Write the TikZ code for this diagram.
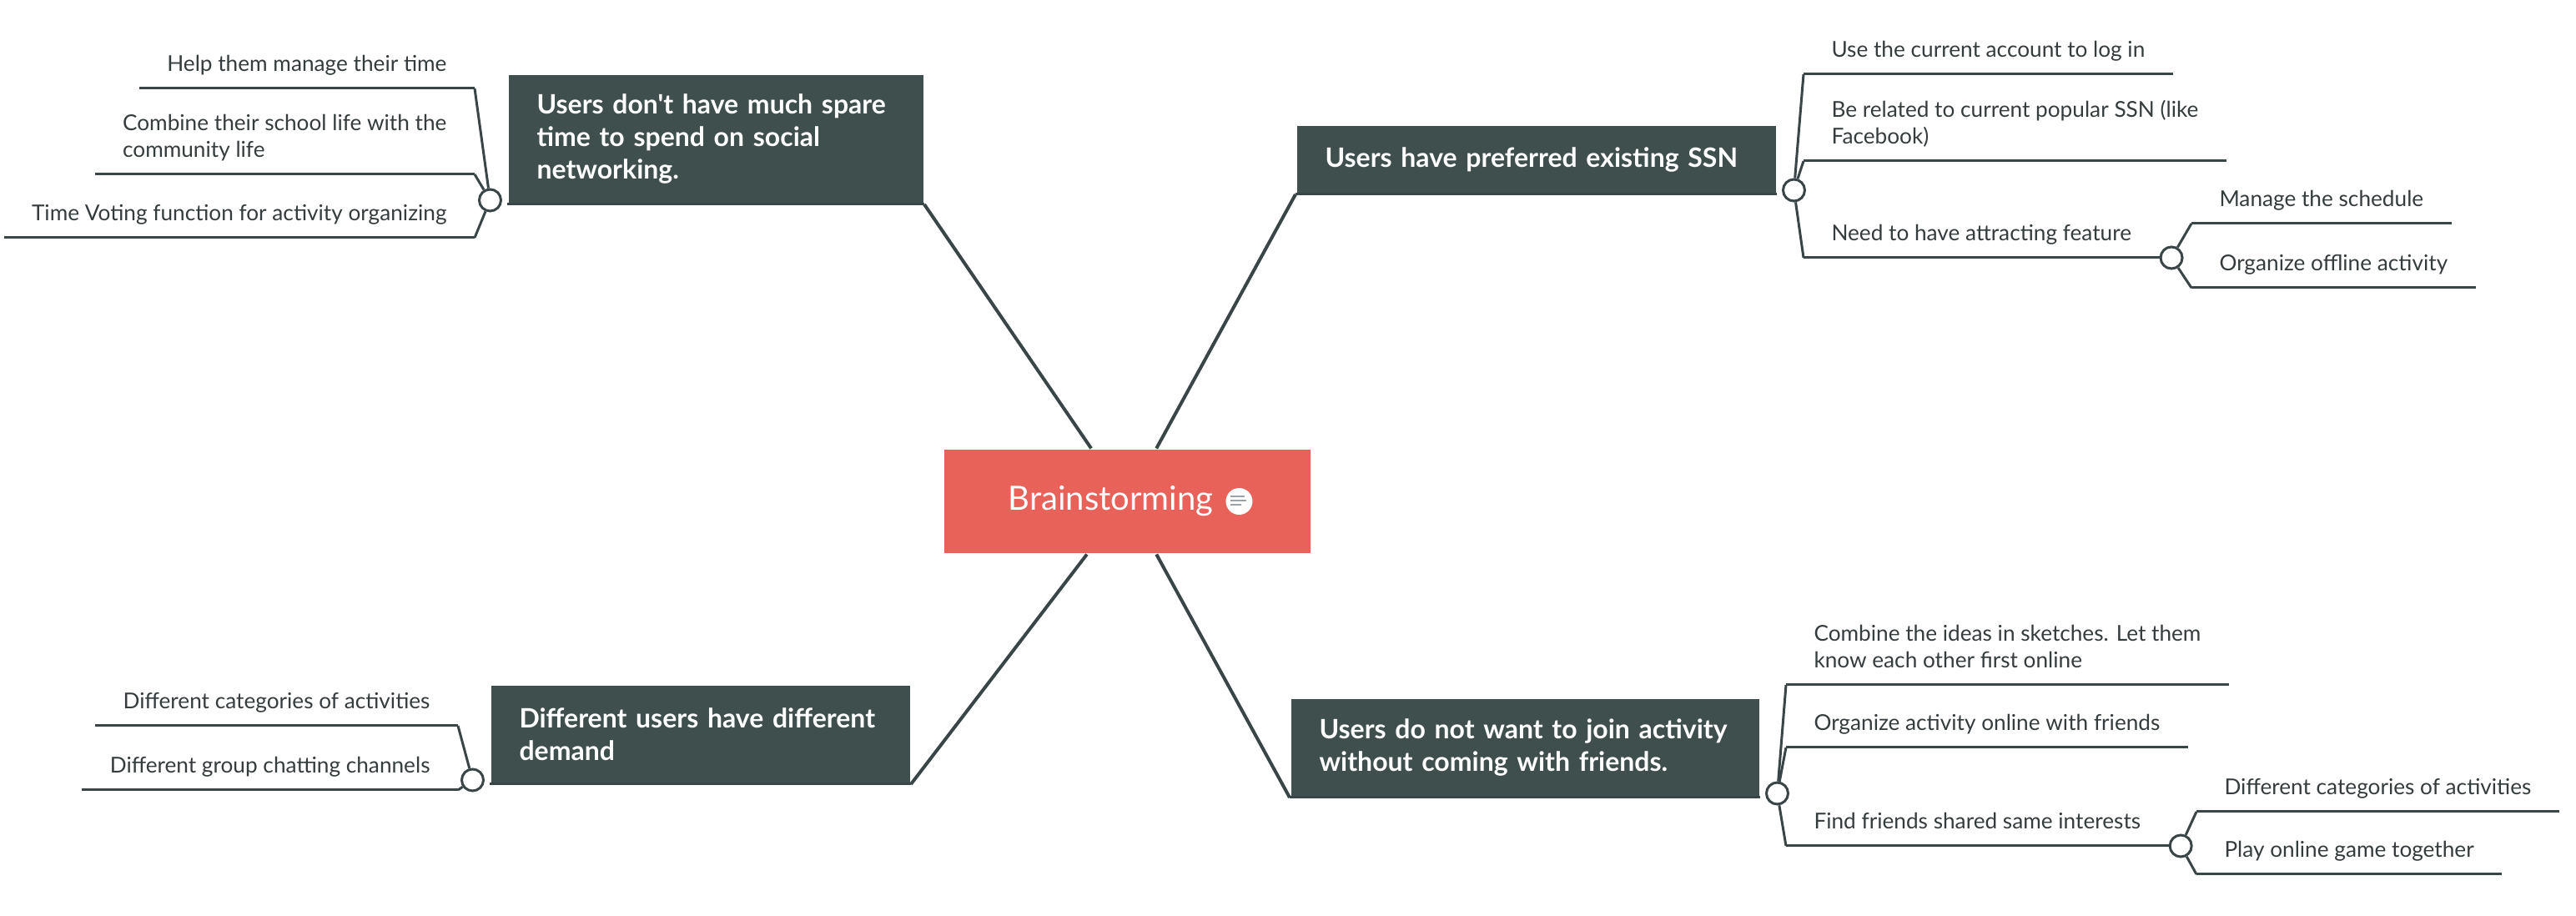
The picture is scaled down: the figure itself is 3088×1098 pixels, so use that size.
\documentclass[tikz,border=0pt]{standalone}
\usepackage{fontspec}
\setmainfont{Lato}[Ligatures=TeXOff]
\usetikzlibrary{positioning}

\definecolor{rootred}{HTML}{E8625A}
\definecolor{boxgrey}{HTML}{3F4F4D}
\definecolor{linegrey}{HTML}{3A4547}
\definecolor{textgrey}{HTML}{353C3E}
\definecolor{icongrey}{HTML}{9AA3A8}

\tikzset{every picture/.style={line width=0.75pt},
	conn/.style={draw=linegrey, line width=1pt},
	uline/.style={draw=linegrey, line width=0.75pt},
	root/.style={fill=rootred, minimum width=109.75pt, minimum height=31pt, inner sep=0pt},
	roottext/.style={text=white, font=\fontsize{10}{12}\selectfont, inner sep=0pt},
	noteicon/.style={circle, fill=white, minimum size=8pt, inner sep=0pt},
	branch/.style={fill=boxgrey, text=white, font=\bfseries\fontsize{8}{9.75}\selectfont, align=left, inner xsep=8.5pt, inner ysep=0pt, anchor=north west,
		execute at begin node={\hyphenpenalty=10000},
		append after command={(\tikzlastnode.south west) edge[uline] (\tikzlastnode.south east)}},
	sub/.style={text=textgrey, font=\fontsize{6.55}{8}\selectfont, align=left, inner xsep=8pt, inner ysep=3.25pt, text depth=1.5pt,
		append after command={(\tikzlastnode.south west) edge[uline] (\tikzlastnode.south east)}},
	subl/.style={sub, anchor=south east},
	subr/.style={sub, anchor=south west},
	knob/.style={circle, draw=linegrey, fill=white, line width=0.75pt, minimum size=6.5pt, inner sep=0pt}
}

\begin{document}
\begin{tikzpicture}[x=0.25pt,y=0.25pt,yscale=-1,xscale=1]
	\useasboundingbox (0,0) rectangle (3088,1098);
	
	% Central topic
	\node[root] (root) at (1351.5,601) {};
	\node[roottext] (rlabel) at ([xshift=-5pt]root.center) {Brainstorming};
	\node[noteicon, right=3pt of rlabel] (note) {};
	\draw[icongrey, line width=0.5pt] ([shift={(-10,-6)}]note.center) -- ++(17,0);
	\draw[icongrey, line width=0.5pt] ([shift={(-10,-1)}]note.center) -- ++(19,0);
	\draw[icongrey, line width=0.5pt] ([shift={(-10,4)}]note.center) -- ++(13,0);
	
	% Main branches
	\node[branch, text width=107.25pt, minimum height=38.25pt] (b1) at (608,89) {Users don't have much spare\\time to spend on social\\networking.};
	\node[branch, text width=126.5pt, minimum height=20pt] (b2) at (1553,150) {Users have preferred existing SSN};
	\node[branch, text width=108.5pt, minimum height=29pt] (b3) at (587,821) {Different users have different\\demand};
	\node[branch, text width=123.25pt, minimum height=29pt] (b4) at (1546,837) {Users do not want to join activity\\without coming with friends.};
	
	\draw[conn] (b1.south east) -- (root);
	\draw[conn] (b2.south west) -- (root);
	\draw[conn] (b3.south east) -- (root);
	\draw[conn] (b4.south west) -- (root);
	
	% Knobs on the branches
	\node[knob, left=1.5pt of b1.south west, yshift=1.25pt] (k1) {};
	\node[knob, right=1.5pt of b2.south east, yshift=1.25pt] (k2) {};
	\node[knob, left=1.5pt of b3.south west, yshift=1.25pt] (k3) {};
	\node[knob, right=1.5pt of b4.south east, yshift=1.25pt] (k4) {};
	
	% Sub-topics of b1
	\node[subl] (s1a) at (569,106) {Help them manage their time};
	\node[subl] (s1b) at (569,209) {Combine their school life with the\\community life};
	\node[subl] (s1c) at (569,285) {Time Voting function for activity organizing};
	\foreach \s in {s1a,s1b,s1c} \draw[uline] (k1) -- (\s.south east);
	
	% Sub-topics of b2
	\node[subr] (s2a) at (2162,89) {Use the current account to log in};
	\node[subr] (s2b) at (2162,193) {Be related to current popular SSN (like\\Facebook)};
	\node[subr] (s2c) at (2162,309) {Need to have attracting feature};
	\foreach \s in {s2a,s2b,s2c} \draw[uline] (k2) -- (\s.south west);
	\node[knob, right=0pt of s2c.south east] (k2c) {};
	\node[subr] (s2c1) at (2627,268) {Manage the schedule};
	\node[subr] (s2c2) at (2627,345) {Organize offline activity};
	\foreach \s in {s2c1,s2c2} \draw[uline] (k2c) -- (\s.south west);
	
	% Sub-topics of b3
	\node[subl] (s3a) at (549,870) {Different categories of activities};
	\node[subl] (s3b) at (549,947) {Different group chatting channels};
	\foreach \s in {s3a,s3b} \draw[uline] (k3) -- (\s.south east);
	
	% Sub-topics of b4
	\node[subr] (s4a) at (2141,821) {Combine the ideas in sketches. Let them\\know each other first online};
	\node[subr] (s4b) at (2141,896) {Organize activity online with friends};
	\node[subr] (s4c) at (2141,1014) {Find friends shared same interests};
	\foreach \s in {s4a,s4b,s4c} \draw[uline] (k4) -- (\s.south west);
	\node[knob, right=0pt of s4c.south east] (k4c) {};
	\node[subr] (s4c1) at (2633,973) {Different categories of activities};
	\node[subr] (s4c2) at (2633,1048) {Play online game together};
	\foreach \s in {s4c1,s4c2} \draw[uline] (k4c) -- (\s.south west);
\end{tikzpicture}
\end{document}
